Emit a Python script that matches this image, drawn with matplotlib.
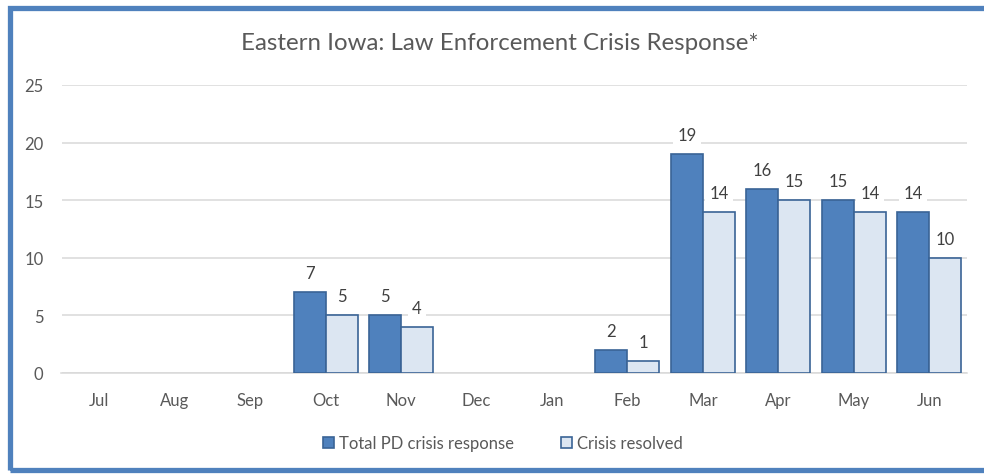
import matplotlib.pyplot as plt
from matplotlib.patches import Rectangle, Patch
import numpy as np

# data
months = ['Jul', 'Aug', 'Sep', 'Oct', 'Nov', 'Dec',
          'Jan', 'Feb', 'Mar', 'Apr', 'May', 'Jun']
total_response = [0, 0, 0, 7, 5, 0, 0, 2, 19, 16, 15, 14]
resolved = [0, 0, 0, 5, 4, 0, 0, 1, 14, 15, 14, 10]
series_names = ['Total PD crisis response', 'Crisis resolved']

text_color = '#595959'
dark_blue = '#4F81BD'
light_blue = '#DCE6F2'
edge_blue = '#3A6496'
plt.rcParams['font.family'] = ['Lato', 'DejaVu Sans']

fig = plt.figure(figsize=(9.84, 4.77), dpi=100)
ax = fig.add_axes([61.5 / 984, 1 - 374 / 477, 905.5 / 984, 288 / 477])

x = np.arange(len(months))
w = 0.424
b1 = ax.bar(x - w / 2, total_response, w, color=dark_blue, edgecolor=edge_blue,
            linewidth=1.2, zorder=3)
b2 = ax.bar(x + w / 2, resolved, w, color=light_blue, edgecolor=edge_blue,
            linewidth=1.2, zorder=3)

for bars, vals in ((b1, total_response), (b2, resolved)):
    for rect, v in zip(bars, vals):
        if v == 0:
            rect.set_visible(False)   # Excel shows nothing for empty months
            continue
        ax.annotate(str(v), (rect.get_x() + rect.get_width() / 2, v),
                    xytext=(0, 8), textcoords='offset points',
                    ha='center', va='bottom', fontsize=12, color='#404040',
                    bbox=dict(boxstyle='square,pad=0.25', fc='white', ec='none'),
                    zorder=4)

ax.set_xlim(-0.5, len(months) - 0.5)
ax.set_ylim(0, 25)
ax.set_yticks(range(0, 26, 5))
ax.set_xticks(x)
ax.set_xticklabels(months)
ax.yaxis.grid(True, color='#D9D9D9', linewidth=1.1, zorder=0)
ax.set_axisbelow(True)
for s in ('top', 'right', 'left'):
    ax.spines[s].set_visible(False)
ax.spines['bottom'].set_color('#D9D9D9')
ax.spines['bottom'].set_linewidth(1.1)
ax.tick_params(length=0, colors=text_color, labelsize=12)
ax.tick_params(axis='x', pad=14)
ax.tick_params(axis='y', pad=13)

fig.text(0.508, 1 - 43 / 477, 'Eastern Iowa: Law Enforcement Crisis Response*',
         ha='center', va='center', fontsize=17.3, color=text_color)

handles = [Patch(facecolor=dark_blue, edgecolor=edge_blue, linewidth=1.2),
           Patch(facecolor=light_blue, edgecolor=edge_blue, linewidth=1.2)]
leg = fig.legend(handles, series_names, loc='center',
                 bbox_to_anchor=(0.511, 1 - 444 / 477),
                 ncol=2, frameon=False, fontsize=12, handlelength=0.65,
                 handleheight=0.65, handletextpad=0.3, columnspacing=2.8)
for t in leg.get_texts():
    t.set_color(text_color)

# outer frame
fig.add_artist(Rectangle((9.5 / 984, 1 - 470.5 / 477), 1.0, 462 / 477,
                         transform=fig.transFigure, fill=False,
                         edgecolor=dark_blue, linewidth=3.8, clip_on=False))

fig.savefig('out.png', dpi=100, facecolor='white')
